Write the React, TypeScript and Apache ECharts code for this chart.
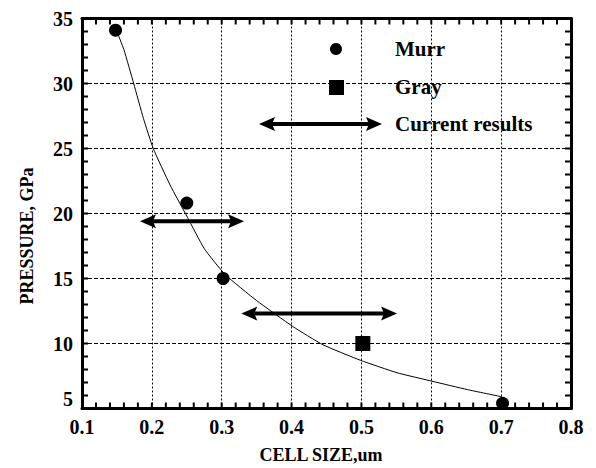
import React, { useEffect, useRef } from "react";
import * as echarts from "echarts";

const xTicks = [0.1, 0.2, 0.3, 0.4, 0.5, 0.6, 0.7, 0.8];
const yTicks = [5, 10, 15, 20, 25, 30, 35];
const xMinorStep = 0.02;
const yMinorStep = 1;

const murrX = [0.148, 0.25, 0.302, 0.702];
const murrY = [34.1, 20.8, 15.0, 5.4];

const grayX = [0.502];
const grayY = [10.0];

// fitted curve
const curveX = [0.15, 0.16, 0.174, 0.188, 0.202, 0.226, 0.251, 0.275, 0.305, 0.35, 0.402, 0.445, 0.499, 0.551, 0.601, 0.652, 0.701];
const curveY = [34.0, 32.6, 30.0, 27.3, 25.0, 22.2, 19.7, 17.3, 15.3, 13.3, 11.3, 9.9, 8.7, 7.75, 7.1, 6.45, 5.9];

// current results: [from, to, pressure]
const arrowFrom = [0.183, 0.328];
const arrowTo = [0.332, 0.551];
const arrowY = [19.4, 12.3];

const legendNames = ["Murr", "Gray", "Current results"];

const FONT = "'Liberation Serif', 'Times New Roman', serif";

function arrowShapes(x1: number, x2: number, y: number, headLen: number, headHalf: number) {
  return [
    {
      type: "line",
      shape: { x1: x1 + headLen - 3, y1: y, x2: x2 - headLen + 3, y2: y },
      style: { stroke: "#000", lineWidth: 4 },
    },
    {
      type: "polygon",
      shape: {
        points: [
          [x1, y],
          [x1 + headLen, y - headHalf],
          [x1 + headLen - 3, y],
          [x1 + headLen, y + headHalf],
        ],
      },
      style: { fill: "#000" },
    },
    {
      type: "polygon",
      shape: {
        points: [
          [x2, y],
          [x2 - headLen, y - headHalf],
          [x2 - headLen + 3, y],
          [x2 - headLen, y + headHalf],
        ],
      },
      style: { fill: "#000" },
    },
  ];
}

export default function App() {
  const ref = useRef<HTMLDivElement>(null);
  useEffect(() => {
    if (!ref.current) return;
    const chart = echarts.init(ref.current, undefined, { renderer: "svg" });

    const xMin = xTicks[0];
    const xMax = xTicks[xTicks.length - 1];
    const yMin = yTicks[0];
    const yMax = yTicks[yTicks.length - 1];

    // minor tick positions along each axis (axis furniture, not data)
    const xTickVals: number[] = [];
    for (let i = 0; xMin + i * xMinorStep <= xMax + 1e-9; i++) xTickVals.push(+(xMin + i * xMinorStep).toFixed(3));
    const yTickVals: number[] = [];
    for (let i = 0; yMin + i * yMinorStep <= yMax + 1e-9; i++) yTickVals.push(yMin + i * yMinorStep);

    const mkAxisLine = () => ({ show: true, onZero: false, lineStyle: { color: "#000", width: 3 } });
    const labelStyle = () => ({
      color: "#000",
      fontFamily: FONT,
      fontWeight: "bold" as const,
      fontSize: 20,
    });
    const TICK = 6;
    const tickStyle = () => ({ stroke: "#000", lineWidth: 2 });

    const option: any = {
      animation: false,
      grid: { left: 82, right: 25, top: 18.5, bottom: 59.5 },
      xAxis: [
        {
          type: "value",
          min: xMin,
          max: xMax,
          interval: 0.1,
          position: "bottom",
          axisLine: mkAxisLine(),
          axisTick: { show: false },
          axisLabel: {
            ...labelStyle(),
            margin: 8,
            formatter: (v: number) => v.toFixed(1),
          },
          splitLine: { show: true, lineStyle: { color: "#000", width: 1, type: [2, 2] } },
        },
        {
          type: "value",
          min: xMin,
          max: xMax,
          interval: 0.1,
          position: "top",
          axisLine: mkAxisLine(),
          axisTick: { show: false },
          axisLabel: { show: false },
          splitLine: { show: false },
        },
      ],
      yAxis: [
        {
          type: "value",
          min: yMin,
          max: yMax,
          interval: 5,
          position: "left",
          axisLine: mkAxisLine(),
          axisTick: { show: false },
          axisLabel: {
            ...labelStyle(),
            margin: 9,
            formatter: (v: number) => (v === yTicks[0] ? `{low|${v}}` : `${v}`),
            rich: { low: { ...labelStyle(), padding: [0, 0, 20, 0] } },
          },
          splitLine: { show: true, lineStyle: { color: "#000", width: 1, type: [4, 2] } },
        },
        {
          type: "value",
          min: yMin,
          max: yMax,
          interval: 5,
          position: "right",
          axisLine: mkAxisLine(),
          axisTick: { show: false },
          axisLabel: { show: false },
          splitLine: { show: false },
        },
      ],
      series: [
        {
          type: "custom",
          silent: true,
          clip: false,
          data: xTickVals.map((v) => [v, yMin]),
          renderItem: (params: any, api: any) => {
            const b = api.coord([api.value(0), yMin]);
            const t = api.coord([api.value(0), yMax]);
            return {
              type: "group",
              children: [
                { type: "line", shape: { x1: b[0], y1: b[1], x2: b[0], y2: b[1] - TICK }, style: tickStyle() },
                { type: "line", shape: { x1: t[0], y1: t[1], x2: t[0], y2: t[1] + TICK }, style: tickStyle() },
              ],
            };
          },
          z: 6,
        },
        {
          type: "custom",
          silent: true,
          clip: false,
          data: yTickVals.map((v) => [xMin, v]),
          renderItem: (params: any, api: any) => {
            const l = api.coord([xMin, api.value(1)]);
            const r = api.coord([xMax, api.value(1)]);
            return {
              type: "group",
              children: [
                { type: "line", shape: { x1: l[0], y1: l[1], x2: l[0] + TICK, y2: l[1] }, style: tickStyle() },
                { type: "line", shape: { x1: r[0], y1: r[1], x2: r[0] - TICK, y2: r[1] }, style: tickStyle() },
              ],
            };
          },
          z: 6,
        },
        {
          type: "line",
          data: curveX.map((x, i) => [x, curveY[i]]),
          smooth: 0.15,
          showSymbol: false,
          lineStyle: { color: "#000", width: 1 },
          z: 3,
        },
        {
          name: legendNames[0],
          type: "scatter",
          data: murrX.map((x, i) => [x, murrY[i]]),
          symbol: "circle",
          symbolSize: 13,
          itemStyle: { color: "#000", opacity: 1 },
          z: 4,
        },
        {
          name: legendNames[1],
          type: "scatter",
          data: grayX.map((x, i) => [x, grayY[i]]),
          symbol: "rect",
          symbolSize: 15,
          itemStyle: { color: "#000", opacity: 1 },
          z: 4,
        },
        {
          name: legendNames[2],
          type: "custom",
          data: arrowFrom.map((x, i) => [x, arrowTo[i], arrowY[i]]),
          renderItem: (params: any, api: any) => {
            const p1 = api.coord([api.value(0), api.value(2)]);
            const p2 = api.coord([api.value(1), api.value(2)]);
            return { type: "group", children: arrowShapes(p1[0], p2[0], p1[1], 16, 7) };
          },
          z: 5,
        },
      ],
      graphic: [
        { type: "circle", shape: { cx: 336, cy: 49, r: 6 }, style: { fill: "#000" } },
        { type: "rect", shape: { x: 329, y: 80, width: 15, height: 15 }, style: { fill: "#000" } },
        { type: "group", children: arrowShapes(259, 382, 124, 16, 7) },
        {
          type: "text",
          x: 395,
          y: 49,
          style: { text: legendNames[0], fill: "#000", font: `bold 21px ${FONT}`, verticalAlign: "middle" },
        },
        {
          type: "text",
          x: 395,
          y: 87,
          style: { text: legendNames[1], fill: "#000", font: `bold 21px ${FONT}`, verticalAlign: "middle" },
        },
        {
          type: "text",
          x: 395,
          y: 124,
          style: { text: legendNames[2], fill: "#000", font: `bold 21px ${FONT}`, verticalAlign: "middle" },
        },
        {
          type: "text",
          x: 27,
          y: 236,
          rotation: Math.PI / 2,
          style: {
            text: "PRESSURE, GPa",
            fill: "#000",
            font: `bold 18px ${FONT}`,
            align: "center",
            verticalAlign: "middle",
          },
        },
        {
          type: "text",
          x: 321,
          y: 455,
          style: {
            text: "CELL SIZE,um",
            fill: "#000",
            font: `bold 18px ${FONT}`,
            align: "center",
            verticalAlign: "middle",
          },
        },
      ],
    };
    chart.setOption(option);
    return () => chart.dispose();
  }, []);
  return <div ref={ref} style={{ width: 596, height: 468, position: "absolute", left: 0, top: 0, background: "#fff" }} />;
}
